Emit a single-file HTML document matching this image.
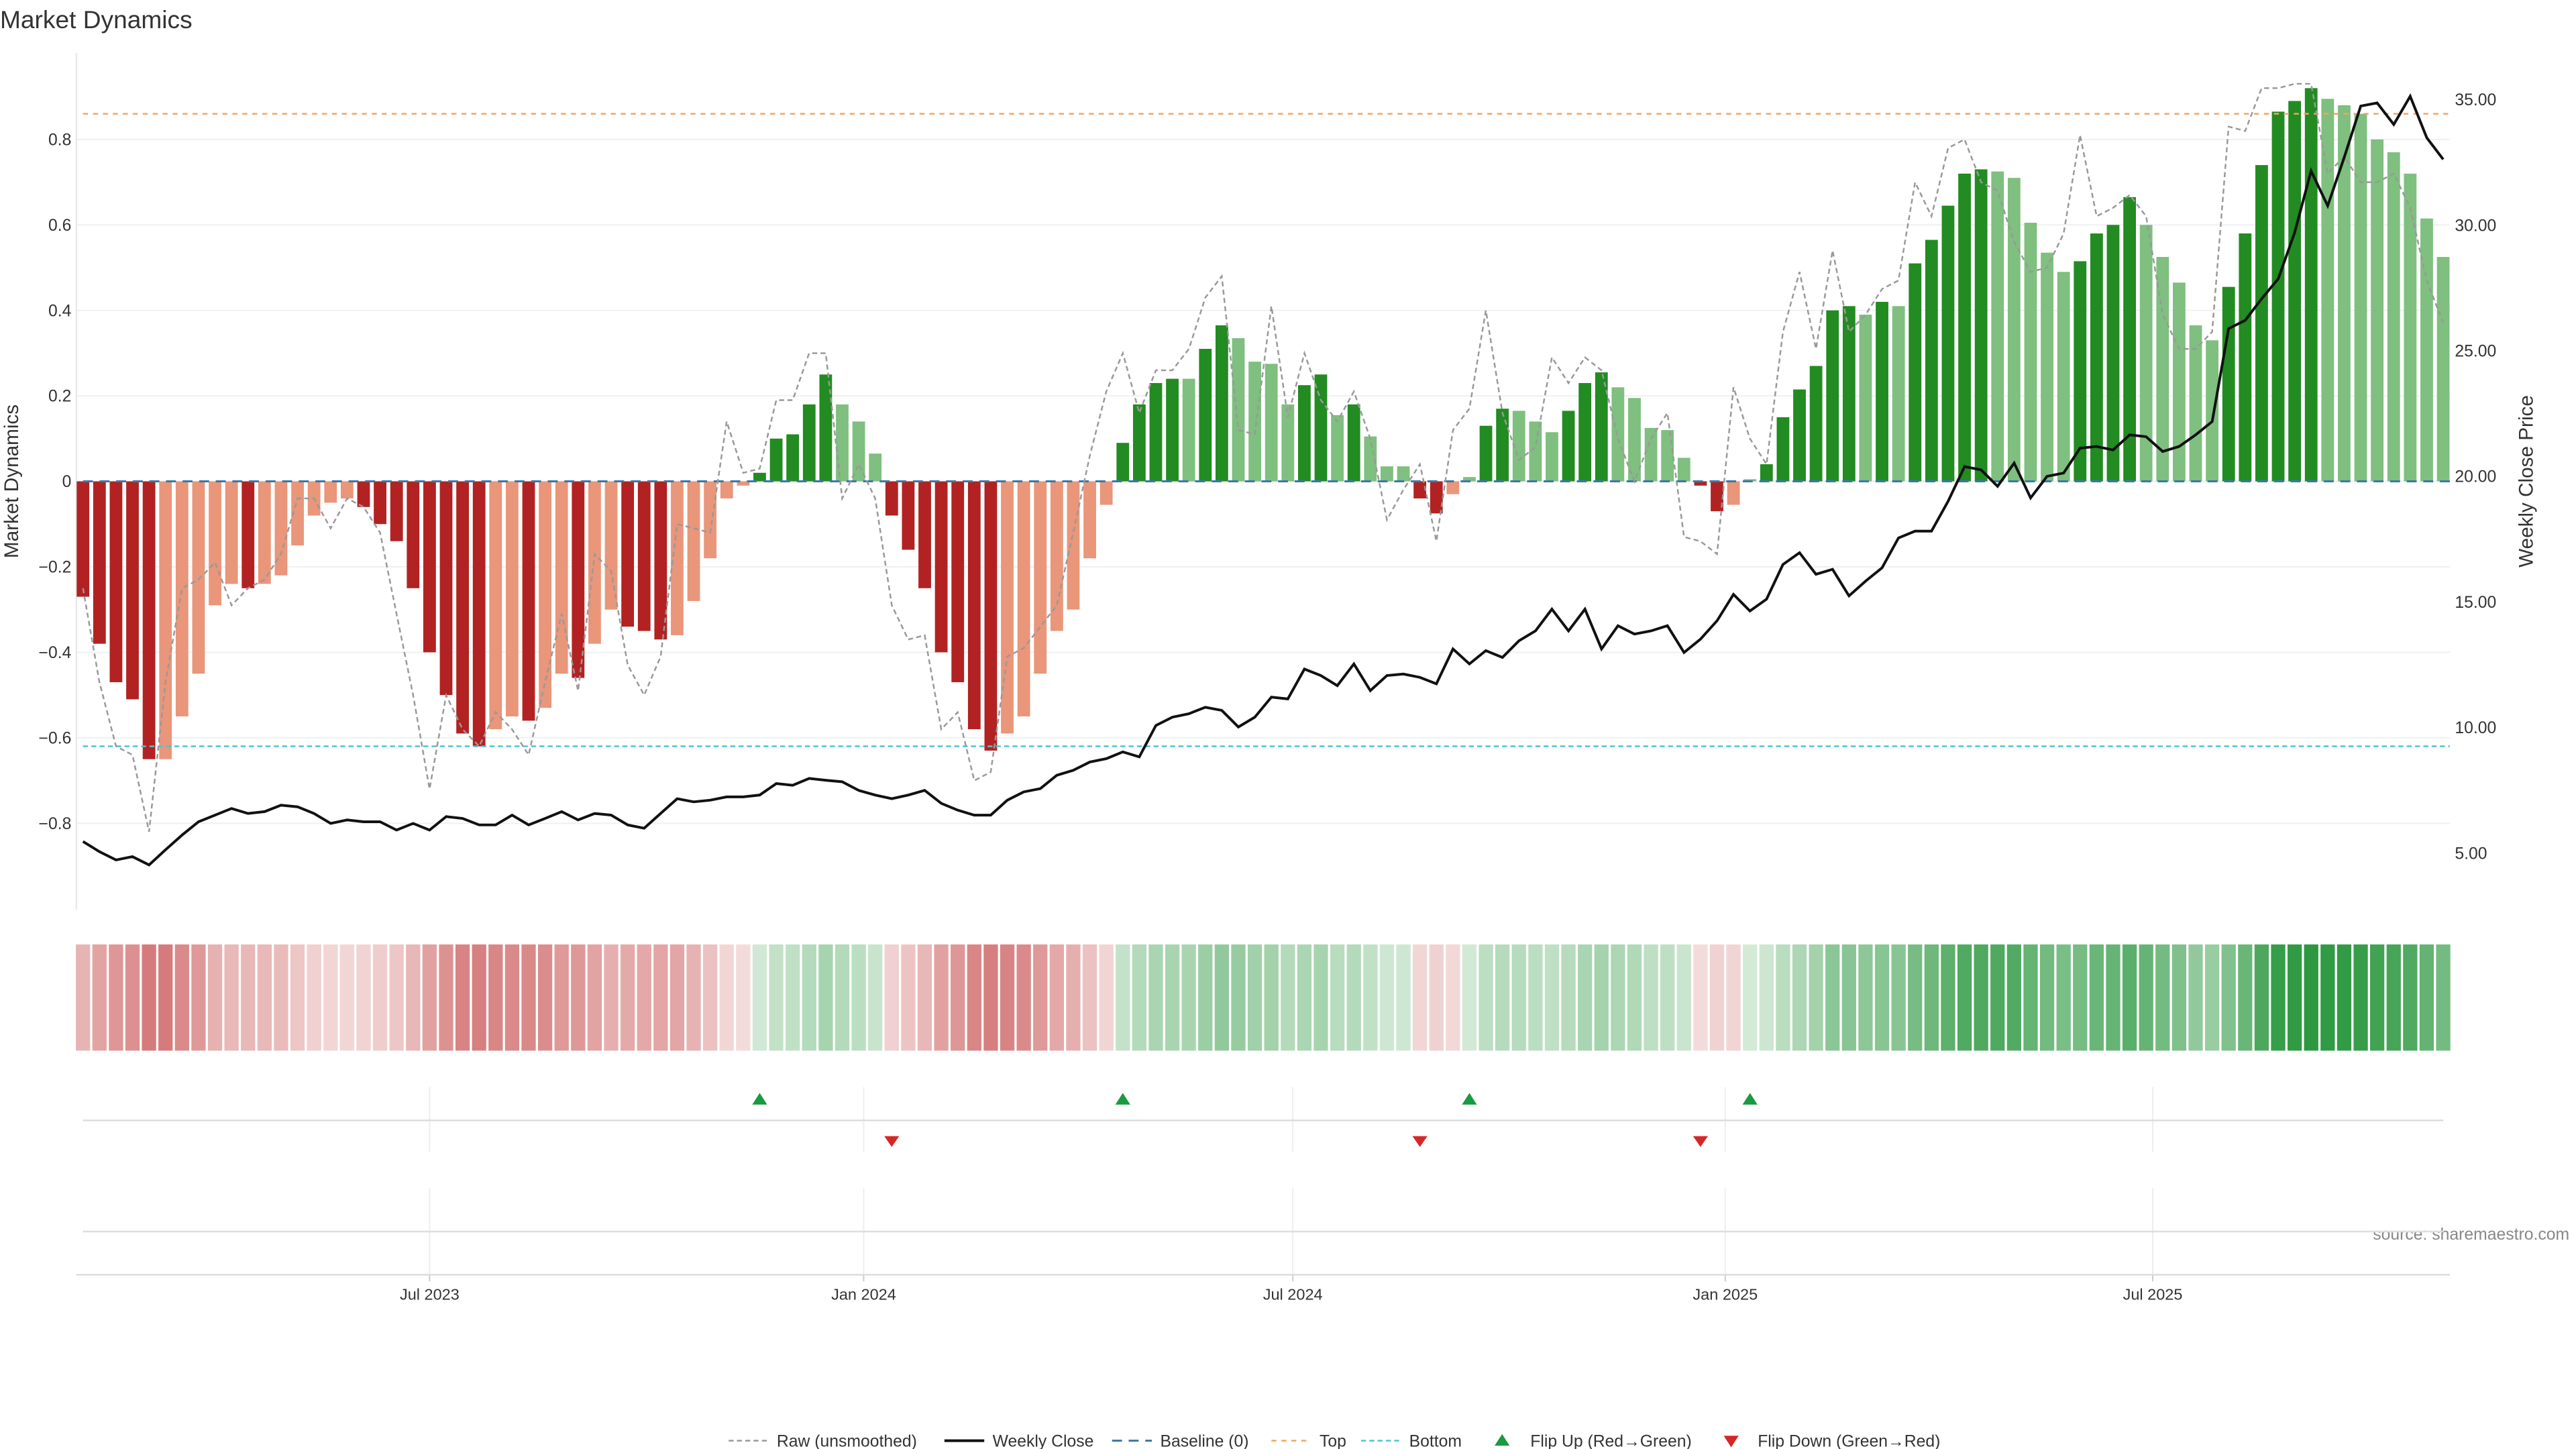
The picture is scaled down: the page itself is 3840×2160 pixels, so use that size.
<!DOCTYPE html>
<html><head><meta charset="utf-8"><style>
html,body{margin:0;padding:0;background:#fff;}
svg{display:block;font-family:"Liberation Sans","DejaVu Sans",sans-serif;}
</style></head><body>
<svg id="chart" width="3840" height="2160" viewBox="0 0 1552 873" xmlns="http://www.w3.org/2000/svg">
<rect width="1552" height="873" fill="#fff"/>
<text x="0" y="17" font-size="15" fill="#333">Market Dynamics</text>
<text transform="translate(11,290) rotate(-90)" text-anchor="middle" font-size="12" fill="#333">Market Dynamics</text>
<text transform="translate(1526,290) rotate(-90)" text-anchor="middle" font-size="12" fill="#333">Weekly Close Price</text>
<text x="1548" y="747" text-anchor="end" font-size="10" fill="#888">source: sharemaestro.com</text>
<g id="g"></g>
</svg>
<script>
const bars=[-0.27,-0.38,-0.47,-0.51,-0.65,-0.65,-0.55,-0.45,-0.29,-0.24,-0.25,-0.24,-0.22,-0.15,-0.08,-0.05,-0.04,-0.06,-0.10,-0.14,-0.25,-0.40,-0.50,-0.59,-0.62,-0.58,-0.55,-0.56,-0.53,-0.45,-0.46,-0.38,-0.30,-0.34,-0.35,-0.37,-0.36,-0.28,-0.18,-0.04,-0.01,0.02,0.10,0.11,0.18,0.25,0.18,0.14,0.065,-0.08,-0.16,-0.25,-0.40,-0.47,-0.58,-0.63,-0.59,-0.55,-0.45,-0.35,-0.30,-0.18,-0.055,0.09,0.18,0.23,0.24,0.24,0.31,0.365,0.335,0.28,0.275,0.18,0.225,0.25,0.155,0.18,0.105,0.035,0.035,-0.04,-0.075,-0.03,0.01,0.13,0.17,0.165,0.14,0.115,0.165,0.23,0.255,0.22,0.195,0.125,0.12,0.055,-0.01,-0.07,-0.055,0.005,0.04,0.15,0.215,0.27,0.40,0.41,0.39,0.42,0.41,0.51,0.565,0.645,0.72,0.73,0.725,0.71,0.605,0.535,0.49,0.515,0.58,0.60,0.665,0.60,0.525,0.465,0.365,0.33,0.455,0.58,0.74,0.865,0.89,0.92,0.895,0.88,0.86,0.80,0.77,0.72,0.615,0.525];
const dark=[1,1,1,1,1,0,0,0,0,0,1,0,0,0,0,0,0,1,1,1,1,1,1,1,1,0,0,1,0,0,1,0,0,1,1,1,0,0,0,0,0,1,1,1,1,1,0,0,0,1,1,1,1,1,1,1,0,0,0,0,0,0,0,1,1,1,1,0,1,1,0,0,0,0,1,1,0,1,0,0,0,1,1,0,0,1,1,0,0,0,1,1,1,0,0,0,0,0,1,1,0,0,1,1,1,1,1,1,0,1,0,1,1,1,1,1,0,0,0,0,0,1,1,1,1,0,0,0,0,0,1,1,1,1,1,1,0,0,0,0,0,0,0,0];
const raw=[-0.25,-0.47,-0.62,-0.64,-0.82,-0.47,-0.25,-0.23,-0.19,-0.29,-0.25,-0.23,-0.17,-0.04,-0.04,-0.11,-0.04,-0.06,-0.12,-0.31,-0.50,-0.72,-0.50,-0.58,-0.62,-0.54,-0.58,-0.64,-0.47,-0.31,-0.49,-0.17,-0.21,-0.43,-0.50,-0.41,-0.10,-0.11,-0.12,0.14,0.02,0.03,0.19,0.19,0.30,0.30,-0.04,0.04,-0.04,-0.29,-0.37,-0.36,-0.58,-0.54,-0.70,-0.68,-0.41,-0.39,-0.34,-0.29,-0.12,0.06,0.21,0.30,0.16,0.26,0.26,0.31,0.43,0.48,0.12,0.11,0.41,0.15,0.30,0.19,0.14,0.21,0.10,-0.09,-0.02,0.04,-0.14,0.12,0.17,0.40,0.16,0.05,0.08,0.29,0.23,0.29,0.26,0.10,0.0,0.10,0.16,-0.13,-0.14,-0.17,0.22,0.10,0.04,0.35,0.49,0.31,0.54,0.35,0.39,0.45,0.47,0.70,0.62,0.78,0.80,0.70,0.68,0.56,0.49,0.50,0.58,0.81,0.62,0.64,0.67,0.62,0.39,0.31,0.31,0.35,0.83,0.82,0.92,0.92,0.93,0.93,0.72,0.76,0.70,0.70,0.72,0.64,0.47,0.37];
const close=[5.46,5.06,4.73,4.86,4.53,5.13,5.72,6.25,6.51,6.78,6.58,6.65,6.91,6.84,6.58,6.18,6.32,6.25,6.25,5.92,6.18,5.92,6.45,6.38,6.12,6.12,6.51,6.12,6.38,6.65,6.32,6.58,6.51,6.12,5.99,6.58,7.17,7.04,7.11,7.24,7.24,7.31,7.77,7.70,7.97,7.90,7.84,7.50,7.31,7.17,7.31,7.50,6.98,6.71,6.51,6.51,7.11,7.44,7.57,8.10,8.30,8.63,8.76,9.03,8.83,10.08,10.41,10.55,10.81,10.68,10.02,10.41,11.21,11.14,12.33,12.07,11.67,12.53,11.47,12.07,12.13,12.00,11.74,13.13,12.53,13.06,12.79,13.45,13.85,14.71,13.85,14.71,13.13,14.05,13.72,13.85,14.05,12.99,13.52,14.25,15.30,14.64,15.11,16.49,16.96,16.10,16.30,15.24,15.83,16.36,17.55,17.82,17.82,19.01,20.39,20.26,19.60,20.53,19.14,20.00,20.13,21.12,21.19,21.05,21.65,21.58,20.99,21.19,21.65,22.18,25.88,26.21,27.07,27.86,29.71,32.16,30.77,32.69,34.74,34.87,34.01,35.13,33.48,32.62];
const yTicks=[-0.8,-0.6,-0.4,-0.2,0,0.2,0.4,0.6,0.8];
const yTickLabels=["−0.8","−0.6","−0.4","−0.2","0","0.2","0.4","0.6","0.8"];
const y2Ticks=[5,10,15,20,25,30,35];
const y2TickLabels=["5.00","10.00","15.00","20.00","25.00","30.00","35.00"];
const xTickIdx=[21,47.3,73.3,99.5,125.4];
const xTickLabels=["Jul 2023","Jan 2024","Jul 2024","Jan 2025","Jul 2025"];
const topLevel=0.86, bottomLevel=-0.62;

const NS="http://www.w3.org/2000/svg";
const g=document.getElementById('g');
function mk(t,a,p){const e=document.createElementNS(NS,t);for(const k in a)e.setAttribute(k,a[k]);(p||g).appendChild(e);return e;}
const N=bars.length;
const x=i=>50+i*(1422/(N-1));
const y=v=>290-v*257.5;
const y2=p=>60+(35-p)*15.133;

// gridlines
yTicks.forEach((t,k)=>{
  const l=mk('line',{x1:46,x2:1476,y1:y(t),y2:y(t),stroke:'#eef0f3','stroke-width':0.8});
  
  
  const tx=mk('text',{x:43,y:y(t)+3.5,'text-anchor':'end','font-size':10,fill:'#333'});
  tx.textContent=yTickLabels[k];
  
  
});
y2Ticks.forEach((t,k)=>{
  const tx=mk('text',{x:1479,y:y2(t)+3.5,'font-size':10,fill:'#333'});
  tx.textContent=y2TickLabels[k];
  
  
});
const ax=mk('line',{x1:46,x2:46,y1:32,y2:548,stroke:'#e6e8ec','stroke-width':1});



// bars
const bw=7.6;
bars.forEach((v,i)=>{
  const pos=v>=0;
  const c=pos?(dark[i]?'#228b22':'#7fbf7f'):(dark[i]?'#b22222':'#e9967a');
  const r=mk('rect',{x:x(i)-bw/2,y:Math.min(y(v),y(0)),width:bw,height:Math.max(0.5,Math.abs(y(v)-y(0))),fill:c});
  
  
});
// reference lines
let l;
l=mk('line',{x1:50,x2:1476,y1:y(topLevel),y2:y(topLevel),stroke:'#f4a460','stroke-width':1,'stroke-dasharray':'3,3'});


l=mk('line',{x1:50,x2:1476,y1:y(bottomLevel),y2:y(bottomLevel),stroke:'#4cc3d3','stroke-width':1,'stroke-dasharray':'3,2'});


l=mk('line',{x1:50,x2:1476,y1:y(0),y2:y(0),stroke:'#3a78a8','stroke-width':1.2,'stroke-dasharray':'6,4'});


// raw line
let d=raw.map((v,i)=>(i?'L':'M')+x(i).toFixed(1)+','+y(v).toFixed(1)).join('');
l=mk('path',{d:d,fill:'none',stroke:'#999','stroke-width':1,'stroke-dasharray':'3,2'});


d=close.map((v,i)=>(i?'L':'M')+x(i).toFixed(1)+','+y2(v).toFixed(1)).join('');
l=mk('path',{d:d,fill:'none',stroke:'#111','stroke-width':1.6});



// heat strip
bars.forEach((v,i)=>{
  const a=Math.min(1,0.2+Math.abs(v)*0.85);
  const base=v>=0?[40,150,60]:[200,80,80];
  const c=base.map(b=>Math.round(255-(255-b)*a));
  const r=mk('rect',{x:x(i)-4.3,y:569,width:8.6,height:64,fill:'rgb('+c.join(',')+')'});
  
  
});

// flip panel & lower panel
xTickIdx.forEach((t,k)=>{
  const xx=x(t);
  let v1=mk('line',{x1:xx,x2:xx,y1:655,y2:694,stroke:'#eee','stroke-width':0.8});
  
  
  v1=mk('line',{x1:xx,x2:xx,y1:716,y2:768,stroke:'#eee','stroke-width':0.8});
  
  
  const tk=mk('line',{x1:xx,x2:xx,y1:768,y2:772,stroke:'#ccc','stroke-width':0.8});
  
  
  const tx=mk('text',{x:xx,y:783,'text-anchor':'middle','font-size':9.5,fill:'#333'});
  tx.textContent=xTickLabels[k];
  
  
});
l=mk('line',{x1:50,x2:1472,y1:675,y2:675,stroke:'#ddd','stroke-width':1});


l=mk('line',{x1:50,x2:1472,y1:742,y2:742,stroke:'#ddd','stroke-width':1});


l=mk('line',{x1:46,x2:1476,y1:768,y2:768,stroke:'#ddd','stroke-width':1});


for(let i=1;i<N;i++){
  if(bars[i-1]<0&&bars[i]>=0){
    const xx=x(i);
    const t=mk('polygon',{points:`${xx-4.5},665.5 ${xx+4.5},665.5 ${xx},658.5`,fill:'#1a9a41'});
    
    
  } else if(bars[i-1]>=0&&bars[i]<0){
    const xx=x(i);
    const t=mk('polygon',{points:`${xx-4.5},684.5 ${xx+4.5},684.5 ${xx},691}`.replace('}',''),fill:'#d62728'});
    
    
  }
}

// legend
const lg=mk('g',{});


function lt(xx,s,name){const t=mk('text',{x:xx,y:871.5,'font-size':10,fill:'#333'},lg);t.textContent=s;}
mk('line',{x1:439,x2:463,y1:868,y2:868,stroke:'#999','stroke-dasharray':'3,2'},lg);lt(468,'Raw (unsmoothed)','legend-raw');
mk('line',{x1:569,x2:593,y1:868,y2:868,stroke:'#111','stroke-width':1.6},lg);lt(598,'Weekly Close','legend-close');
mk('line',{x1:670,x2:694,y1:868,y2:868,stroke:'#3a78a8','stroke-width':1.2,'stroke-dasharray':'6,4'},lg);lt(699,'Baseline (0)','legend-baseline');
mk('line',{x1:766,x2:790,y1:868,y2:868,stroke:'#f4a460','stroke-dasharray':'3,3'},lg);lt(795,'Top','legend-top');
mk('line',{x1:820,x2:844,y1:868,y2:868,stroke:'#4cc3d3','stroke-dasharray':'3,2'},lg);lt(849,'Bottom','legend-bottom');
mk('polygon',{points:'900.5,871 909.5,871 905,864',fill:'#1a9a41'},lg);lt(922,'Flip Up (Red→Green)','legend-flip-up');
mk('polygon',{points:'1038.5,865 1047.5,865 1043,872',fill:'#d62728'},lg);lt(1059,'Flip Down (Green→Red)','legend-flip-down');
</script>
</body></html>
